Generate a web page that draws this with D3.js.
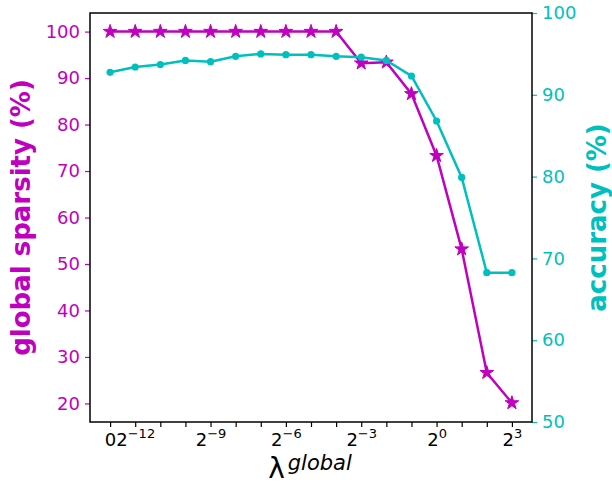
<!DOCTYPE html>
<html>
<head>
<meta charset="utf-8">
<script src="https://cdn.jsdelivr.net/npm/d3@7"></script>
<style>
  body { margin: 0; background: #fff; }
  svg { font-family: "DejaVu Sans", sans-serif; }
</style>
</head>
<body>
<svg id="chart" width="612" height="485"></svg>
<script>
// lambda values: 0, then 2^-12 ... 2^3
const lambdaExp = [null, -12, -11, -10, -9, -8, -7, -6, -5, -4, -3, -2, -1, 0, 1, 2, 3]
const sparsity = [100, 100, 100, 100, 100, 100, 100, 100, 100, 100, 93.2, 93.4, 86.6, 73.3, 53.2, 26.6, 20.1]
const accuracy = [92.75, 93.4, 93.7, 94.2, 94.05, 94.7, 95.0, 94.9, 94.9, 94.7, 94.6, 94.2, 92.3, 86.8, 79.9, 68.25, 68.25]
const labelledExp = [null, -12, -9, -6, -3, 0, 3]
const sparsityTicks = [20, 30, 40, 50, 60, 70, 80, 90, 100]
const accuracyTicks = [50, 60, 70, 80, 90, 100]

const MAGENTA = '#bf00bf'
const CYAN = '#00bfbf'
const FONT = '"DejaVu Sans", sans-serif'

const margin = {left: 90, right: 80, top: 13, bottom: 63}
const width = 612, height = 485
const svg = d3.select('#chart')

const x = d3.scaleLinear()
  .domain([-0.8, lambdaExp.length - 1 + 0.8])
  .range([margin.left, width - margin.right])
const yL = d3.scaleLinear().domain([16, 104]).range([height - margin.bottom, margin.top])
const yR = d3.scaleLinear().domain([50, 100]).range([height - margin.bottom, margin.top])

const idx = d3.range(lambdaExp.length)

// bottom axis: a tick at every point, labels only on some
const xAxis = d3.axisBottom(x)
  .tickValues(idx)
  .tickSize(5)
  .tickPadding(4)
  .tickFormat(() => '')
const gx = svg.append('g')
  .attr('transform', `translate(0,${height - margin.bottom})`)
  .attr('font-family', FONT)
  .call(xAxis)
gx.select('.domain').remove()
gx.selectAll('.tick line').attr('stroke', '#000').attr('stroke-width', 1.2)
gx.selectAll('.tick').each(function(d) {
  const e = lambdaExp[d]
  if (!labelledExp.includes(e)) return
  const t = d3.select(this).select('text')
    .attr('font-size', 18)
    .attr('font-family', FONT)
    .attr('fill', '#000')
    .attr('y', 24)
    .attr('dy', 0)
  if (e === null) {
    t.text('0')
  } else {
    t.append('tspan').text('2')
    t.append('tspan')
      .attr('font-size', 13)
      .attr('dy', -8)
      .text(e < 0 ? '\u2212' + (-e) : e)
  }
})

// left axis
const gl = svg.append('g')
  .attr('transform', `translate(${margin.left},0)`)
  .call(d3.axisLeft(yL).tickValues(sparsityTicks).tickSize(5).tickPadding(5))
  .attr('font-family', FONT)
gl.select('.domain').remove()
gl.selectAll('.tick line').attr('stroke', MAGENTA).attr('stroke-width', 1.2)
gl.selectAll('.tick text').attr('fill', MAGENTA).attr('font-size', 18)

// right axis
const gr = svg.append('g')
  .attr('transform', `translate(${width - margin.right},0)`)
  .call(d3.axisRight(yR).tickValues(accuracyTicks).tickSize(5).tickPadding(5))
  .attr('font-family', FONT)
gr.select('.domain').remove()
gr.selectAll('.tick line').attr('stroke', CYAN).attr('stroke-width', 1.2)
gr.selectAll('.tick text').attr('fill', CYAN).attr('font-size', 18)

// frame
svg.append('rect')
  .attr('x', margin.left).attr('y', margin.top)
  .attr('width', width - margin.right - margin.left)
  .attr('height', height - margin.bottom - margin.top)
  .attr('fill', 'none').attr('stroke', '#000').attr('stroke-width', 1.5)

// sparsity line with stars
const lineL = d3.line().x((d, i) => x(i)).y(d => yL(d))
svg.append('path')
  .datum(sparsity)
  .attr('d', lineL)
  .attr('fill', 'none').attr('stroke', MAGENTA).attr('stroke-width', 2.5)
svg.append('g').selectAll('path')
  .data(sparsity)
  .join('path')
  .attr('transform', (d, i) => `translate(${x(i)},${yL(d)})`)
  .attr('d', d3.symbol(d3.symbolStar, 58))
  .attr('fill', MAGENTA)
  .attr('stroke', MAGENTA).attr('stroke-width', 1)

// accuracy line with dots
const lineR = d3.line().x((d, i) => x(i)).y(d => yR(d))
svg.append('path')
  .datum(accuracy)
  .attr('d', lineR)
  .attr('fill', 'none').attr('stroke', CYAN).attr('stroke-width', 2.5)
svg.append('g').selectAll('circle')
  .data(accuracy)
  .join('circle')
  .attr('cx', (d, i) => x(i))
  .attr('cy', d => yR(d))
  .attr('r', 3.6)
  .attr('fill', CYAN)

// axis labels
svg.append('text')
  .attr('transform', `translate(30,${(margin.top + height - margin.bottom) / 2}) rotate(-90)`)
  .attr('text-anchor', 'middle')
  .attr('font-size', 26).attr('font-weight', 'bold')
  .attr('fill', MAGENTA)
  .text('global sparsity (%)')

svg.append('text')
  .attr('transform', `translate(606,${(margin.top + height - margin.bottom) / 2}) rotate(-90)`)
  .attr('text-anchor', 'middle')
  .attr('font-size', 26).attr('font-weight', 'bold')
  .attr('fill', CYAN)
  .text('accuracy (%)')

const xl = svg.append('text')
  .attr('x', 310).attr('y', 478)
  .attr('text-anchor', 'middle')
  .attr('fill', '#000')
xl.append('tspan').attr('font-size', 28).text('\u03bb')
xl.append('tspan').attr('font-size', 21).attr('font-style', 'italic').attr('dx', 3).attr('dy', -8).text('global')
</script>
</body>
</html>
